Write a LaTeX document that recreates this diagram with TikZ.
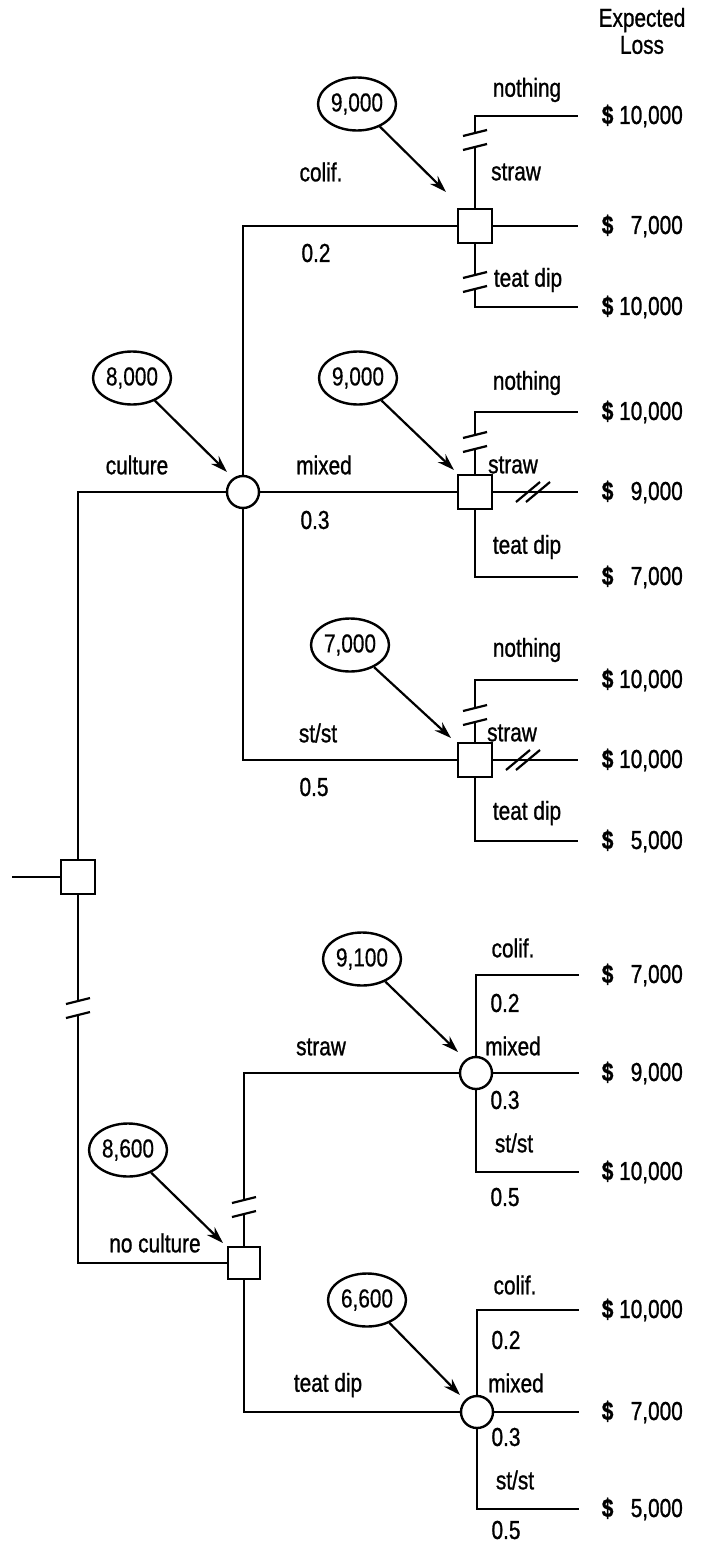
\documentclass[tikz,border=0pt]{standalone}
\usepackage{fontspec}
\setmainfont{Liberation Sans}[FakeStretch=0.8, FakeBold=1.0]
\newfontfamily\valfont{Liberation Sans}[FakeStretch=0.8, FakeBold=0.4]
\usetikzlibrary{arrows.meta,shapes.geometric}
\newcommand\lossv[1]{\textbf{\$}\ #1}
\begin{document}
\begin{tikzpicture}[x=1pt,y=-1pt, line width=2.4pt,
  every node/.style={font=\fontsize{26}{27}\selectfont},
  dec/.style={draw, rectangle, minimum size=34pt, inner sep=0pt, fill=white},
  chance/.style={draw, circle, minimum size=32pt, inner sep=0pt, fill=white},
  val/.style={draw, ellipse, minimum width=78pt, minimum height=53pt, inner sep=0pt,
              font=\valfont\fontsize{26}{27}\selectfont},
  lbl/.style={inner sep=0pt},
  loss/.style={anchor=east, inner sep=0pt},
  arr/.style={-{Stealth[length=17pt,width=11pt]}, line width=2.2pt},
  vbrk/.pic={\fill[white] (-4,-7) rectangle (4,7);
             \draw[line width=2.2pt] (-12,-4) -- (12,-10);
             \draw[line width=2.2pt] (-12,10) -- (12,4);},
  hbrk/.pic={\draw[line width=2.2pt] (-17,10) -- (7,-10);
             \draw[line width=2.2pt] (-7,10) -- (17,-10);}]
\useasboundingbox (0,0) rectangle (702,1544);

% ---------- nodes ----------
\node[dec] (r) at (78,877) {};
\coordinate (rin) at (12,877);
\node[chance] (c1) at (243,492) {};
\node[dec] (d1) at (475,226) {};
\node[dec] (d2) at (475,492) {};
\node[dec] (d3) at (475,760) {};
\node[dec,minimum size=32pt] (d4) at (244,1263) {};
\node[chance] (c2) at (476,1073) {};
\node[chance] (c3) at (477,1412) {};

% corners and ends
\coordinate (rc1) at (78,492);
\coordinate (rc2) at (78,1263);
\coordinate (c1t) at (243,226);
\coordinate (c1b) at (243,760);
\coordinate (d1t) at (475,116); \coordinate (d1te) at (578,116);
\coordinate (d1b) at (475,307); \coordinate (d1be) at (578,307);
\coordinate (d1m) at (578,226);
\coordinate (d2t) at (475,412); \coordinate (d2te) at (578,412);
\coordinate (d2b) at (475,577); \coordinate (d2be) at (578,577);
\coordinate (d2m) at (578,492);
\coordinate (d3t) at (475,680); \coordinate (d3te) at (578,680);
\coordinate (d3b) at (475,841); \coordinate (d3be) at (578,841);
\coordinate (d3m) at (578,760);
\coordinate (d4t) at (244,1073);
\coordinate (d4b) at (244,1412);
\coordinate (c2t) at (476,975); \coordinate (c2te) at (579,975);
\coordinate (c2b) at (476,1172); \coordinate (c2be) at (579,1172);
\coordinate (c2m) at (579,1073);
\coordinate (c3t) at (477,1310); \coordinate (c3te) at (579,1310);
\coordinate (c3b) at (477,1509); \coordinate (c3be) at (579,1509);
\coordinate (c3m) at (579,1412);

% ---------- connectors ----------
\draw (rin) -- (r.west);
\draw (r.north) -- (rc1) -- (c1.west);
\draw (r.south) -- (rc2) -- (d4.west);
\draw (c1.north) -- (c1t) -- (d1.west);
\draw (c1.east) -- (d2.west);
\draw (c1.south) -- (c1b) -- (d3.west);
\draw (d1.north) -- (d1t) -- (d1te);
\draw (d1.east) -- (d1m);
\draw (d1.south) -- (d1b) -- (d1be);
\draw (d2.north) -- (d2t) -- (d2te);
\draw (d2.east) -- (d2m);
\draw (d2.south) -- (d2b) -- (d2be);
\draw (d3.north) -- (d3t) -- (d3te);
\draw (d3.east) -- (d3m);
\draw (d3.south) -- (d3b) -- (d3be);
\draw (d4.north) -- (d4t) -- (c2.west);
\draw (d4.south) -- (d4b) -- (c3.west);
\draw (c2.north) -- (c2t) -- (c2te);
\draw (c2.east) -- (c2m);
\draw (c2.south) -- (c2b) -- (c2be);
\draw (c3.north) -- (c3t) -- (c3te);
\draw (c3.east) -- (c3m);
\draw (c3.south) -- (c3b) -- (c3be);

% break marks
\pic at (78,1008) {vbrk};
\pic at (475,140) {vbrk};
\pic at (475,282) {vbrk};
\pic at (475,442) {vbrk};
\pic at (475,715) {vbrk};
\pic at (244,1207) {vbrk};
\pic at (533,492) {hbrk};
\pic at (523,760) {hbrk};

% ---------- value ellipses and arrows ----------
\node[val] (v1) at (357,104) {9,000};
\node[val] (v2) at (358,378) {9,000};
\node[val] (v3) at (350,645) {7,000};
\node[val] (v8) at (132,378) {8,000};
\node[val] (v86) at (128,1150) {8,600};
\node[val] (v91) at (362,959) {9,100};
\node[val] (v66) at (367,1300) {6,600};
\coordinate (t1) at (446,192);
\coordinate (t2) at (454,470);
\coordinate (t3) at (451,738);
\coordinate (t8) at (227,472);
\coordinate (t86) at (223,1243);
\coordinate (t91) at (458,1052);
\coordinate (t66) at (460,1395);
\draw[arr] (v1) -- (t1);
\draw[arr] (v2) -- (t2);
\draw[arr] (v3) -- (t3);
\draw[arr] (v8) -- (t8);
\draw[arr] (v86) -- (t86);
\draw[arr] (v91) -- (t91);
\draw[arr] (v66) -- (t66);

% ---------- labels ----------
\node[lbl, align=center] (hdr) at (642,31) {Expected\\Loss};
\node[lbl] (l1) at (137,465) {culture};
\node[lbl] (l2) at (155,1243) {no culture};
\node[lbl] (l3) at (321,172) {colif.};
\node[lbl] (l4) at (316,253) {0.2};
\node[lbl] (l5) at (324,465) {mixed};
\node[lbl] (l6) at (315,520) {0.3};
\node[lbl] (l7) at (318,733) {st/st};
\node[lbl] (l8) at (314,787) {0.5};
\node[lbl] (l9) at (527,90) {nothing};
\node[lbl] (l10) at (516,172) {straw};
\node[lbl] (l11) at (528,280) {teat dip};
\node[lbl] (l12) at (527,383) {nothing};
\node[lbl] (l13) at (513,465) {straw};
\node[lbl] (l14) at (527,547) {teat dip};
\node[lbl] (l15) at (527,650) {nothing};
\node[lbl] (l16) at (512,733) {straw};
\node[lbl] (l17) at (527,813) {teat dip};
\node[lbl] (l18) at (321,1047) {straw};
\node[lbl] (l19) at (328,1385) {teat dip};
\node[lbl] (l20) at (513,948) {colif.};
\node[lbl] (l21) at (505,1003) {0.2};
\node[lbl] (l22) at (513,1046) {mixed};
\node[lbl] (l23) at (505,1100) {0.3};
\node[lbl] (l24) at (514,1143) {st/st};
\node[lbl] (l25) at (505,1197) {0.5};
\node[lbl] (l26) at (515,1285) {colif.};
\node[lbl] (l27) at (506,1340) {0.2};
\node[lbl] (l28) at (516,1383) {mixed};
\node[lbl] (l29) at (506,1437) {0.3};
\node[lbl] (l30) at (515,1480) {st/st};
\node[lbl] (l31) at (506,1530) {0.5};

% ---------- expected losses ----------
\node[loss] (x1) at (684,116) {\lossv{10,000}};
\node[loss] (x2) at (684,226) {\lossv{\phantom{1}7,000}};
\node[loss] (x3) at (684,307) {\lossv{10,000}};
\node[loss] (x4) at (684,412) {\lossv{10,000}};
\node[loss] (x5) at (684,492) {\lossv{\phantom{1}9,000}};
\node[loss] (x6) at (684,577) {\lossv{\phantom{1}7,000}};
\node[loss] (x7) at (684,680) {\lossv{10,000}};
\node[loss] (x8) at (684,760) {\lossv{10,000}};
\node[loss] (x9) at (684,841) {\lossv{\phantom{1}5,000}};
\node[loss] (x10) at (684,975) {\lossv{\phantom{1}7,000}};
\node[loss] (x11) at (684,1073) {\lossv{\phantom{1}9,000}};
\node[loss] (x12) at (684,1172) {\lossv{10,000}};
\node[loss] (x13) at (684,1310) {\lossv{10,000}};
\node[loss] (x14) at (684,1412) {\lossv{\phantom{1}7,000}};
\node[loss] (x15) at (684,1509) {\lossv{\phantom{1}5,000}};
\end{tikzpicture}
\end{document}
